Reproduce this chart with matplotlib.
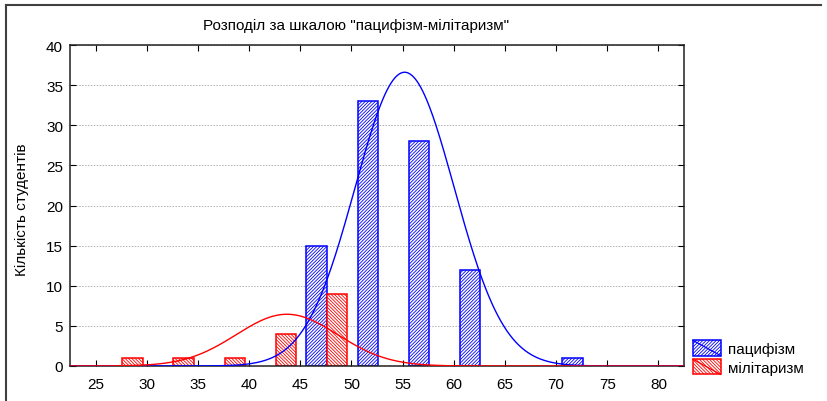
import numpy as np
import matplotlib
matplotlib.use("Agg")
import matplotlib.pyplot as plt
from matplotlib.patches import Rectangle
from matplotlib.lines import Line2D
from matplotlib.legend_handler import HandlerBase

plt.rcParams['font.family'] = ['Liberation Sans', 'DejaVu Sans']
plt.rcParams['hatch.linewidth'] = 0.6

# histogram bars (bar centre, count)
pac_x = [46.6, 51.6, 56.6, 61.6, 71.6]
pac_n = [15, 33, 28, 12, 1]
mil_x = [28.6, 33.6, 38.6, 43.6, 48.6]
mil_n = [1, 1, 1, 4, 9]

# fitted normal curves (mean, sd), bin width 5
pac_mean, pac_sd = 55.2, 4.85
mil_mean, mil_sd = 43.7, 4.95
bin_w = 5

xticks = [25, 30, 35, 40, 45, 50, 55, 60, 65, 70, 75, 80]
yticks = [0, 5, 10, 15, 20, 25, 30, 35, 40]

fs = 11


def normal(x, m, s, n):
    return n * bin_w / (np.sqrt(2 * np.pi) * s) * np.exp(-0.5 * ((x - m) / s) ** 2)


class HatchHandler(HandlerBase):
    def create_artists(self, legend, orig, xd, yd, w, h, fs, trans):
        r = Rectangle((-xd, -yd), w, h, facecolor='white', edgecolor=orig.get_edgecolor(),
                      hatch=orig.get_hatch(), linewidth=1.1, transform=trans)
        l = Line2D([-xd, -xd + w], [-yd + h, -yd], color=orig.get_edgecolor(),
                   linewidth=0.9, transform=trans)
        return [r, l]


fig = plt.figure(figsize=(8.27, 4.02), dpi=100)
ax = fig.add_axes([70 / 827, 1 - 367 / 402, 614 / 827, 321 / 402])

ax.yaxis.grid(True, linestyle=(0, (1.5, 1.5)), color='#b0b0b0', linewidth=0.7)
ax.set_axisbelow(True)

b1 = ax.bar(pac_x, pac_n, width=2.0, facecolor='white', edgecolor='blue',
            hatch='//////////', linewidth=1.1, label='пацифізм', zorder=2)
b2 = ax.bar(mil_x, mil_n, width=2.0, facecolor='white', edgecolor='red',
            hatch='\\' * 10, linewidth=1.1, label='мілітаризм', zorder=2)

xs = np.linspace(22.5, 82.5, 600)
ax.plot(xs, normal(xs, pac_mean, pac_sd, sum(pac_n)), color='blue', linewidth=1.0, zorder=3)
ax.plot(xs, normal(xs, mil_mean, mil_sd, sum(mil_n)), color='red', linewidth=1.0, zorder=3)

ax.set_xlim(22.5, 82.5)
ax.set_ylim(0, 40)
ax.set_xticks(xticks)
ax.set_yticks(yticks)
ax.tick_params(axis='both', direction='in', length=4, labelsize=fs,
               top=True, right=True, width=0.8)
ax.tick_params(axis='x', pad=8)
ax.tick_params(axis='y', pad=5)
for s in ax.spines.values():
    s.set_linewidth(1.1)
    s.set_color('#202020')

fig.text(356 / 827, 1 - 26 / 402, 'Розподіл за шкалою "пацифізм-мілітаризм"',
         ha='center', va='center', fontsize=fs)
fig.text(22 / 827, 1 - 210 / 402, 'Кількість студентів', rotation=90,
         ha='center', va='center', fontsize=fs)

fig.legend(handles=[b1.patches[0], b2.patches[0]], labels=['пацифізм', 'мілітаризм'],
           handler_map={Rectangle: HatchHandler()},
           loc='lower left', bbox_to_anchor=(693 / 827, 1 - 376 / 402),
           frameon=False, fontsize=fs, handlelength=1.8, handleheight=1.15,
           labelspacing=0.2, handletextpad=0.5, borderpad=0.0, borderaxespad=0.0)

# outer frame (left and top edges visible)
fig.add_artist(Line2D([6 / 827, 6 / 827], [0, 1 - 6 / 402], color='#404040', linewidth=1.5))
fig.add_artist(Line2D([6 / 827, 821 / 827], [1 - 6 / 402, 1 - 6 / 402], color='#404040', linewidth=1.5))

fig.savefig('out.png', dpi=100)
